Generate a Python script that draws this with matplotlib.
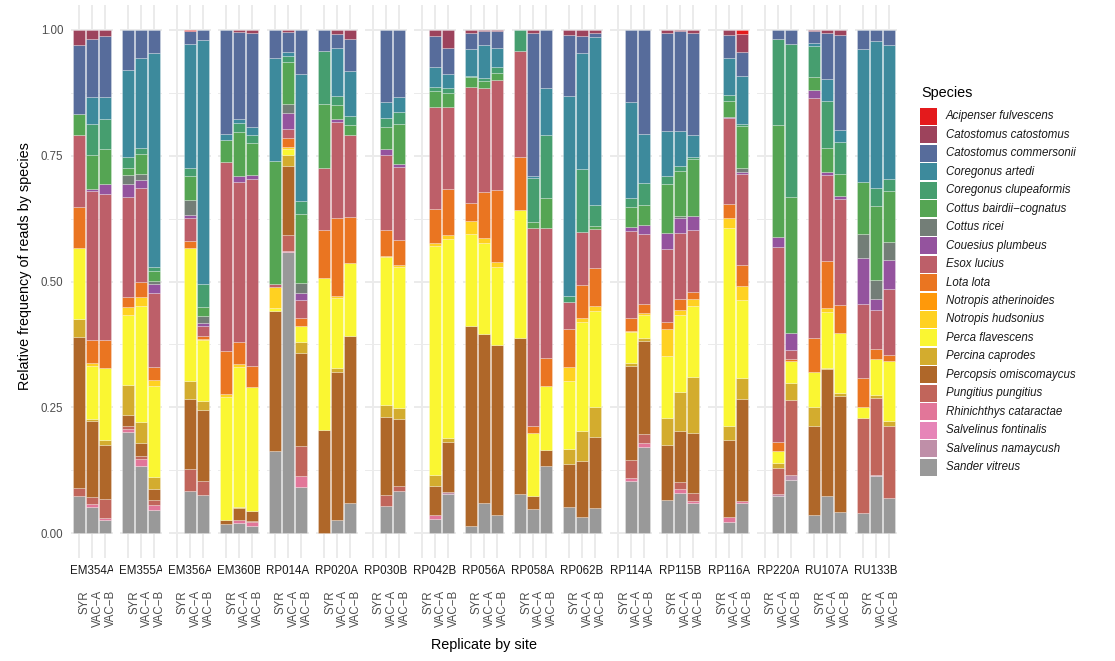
import matplotlib.pyplot as plt
from matplotlib.patches import Rectangle
from matplotlib.transforms import Bbox
import matplotlib.colors as mcolors
import numpy as np

plt.rcParams['font.family'] = ['Liberation Sans', 'DejaVu Sans']

sites = ['EM354A', 'EM355A', 'EM356A', 'EM360B', 'RP014A', 'RP020A', 'RP030B',
         'RP042B', 'RP056A', 'RP058A', 'RP062B', 'RP114A', 'RP115B', 'RP116A',
         'RP220A', 'RU107A', 'RU133B']
reps = ['SYR', 'VAC-A', 'VAC-B']
rep_labels = ['SYR', 'VAC\u2212A', 'VAC\u2212B']
no_syr = ['EM356A', 'RP030B', 'RP042B', 'RP114A', 'RP116A', 'RP220A']

species = ['Acipenser fulvescens', 'Catostomus catostomus', 'Catostomus commersonii',
           'Coregonus artedi', 'Coregonus clupeaformis', 'Cottus bairdii\u2212cognatus',
           'Cottus ricei', 'Couesius plumbeus', 'Esox lucius', 'Lota lota',
           'Notropis atherinoides', 'Notropis hudsonius', 'Perca flavescens',
           'Percina caprodes', 'Percopsis omiscomaycus', 'Pungitius pungitius',
           'Rhinichthys cataractae', 'Salvelinus fontinalis', 'Salvelinus namaycush',
           'Sander vitreus']

# one value per bar, sites in order, replicates SYR / VAC-A / VAC-B (missing SYR skipped)
acipenser = [0, 0, 0,  0, 0, 0,  .002, 0,  0, 0, 0,  0, 0, 0,  0, 0, 0,  0, 0,  0, 0,
             0, 0, 0,  0, 0, 0,  0, 0, 0,  0, 0,  0, 0, 0,  0, .007,  0, 0,  0, 0, 0,  0, 0, 0]
cat_cat = [.030, .017, .012,  0, 0, 0,  0, 0,  0, .003, .005,  0, .003, 0,  0, .007, .017,  0, 0,
           .011, .036,  .005, .002, .002,  0, .005, 0,  .010, .012, .006,  0, 0,
           .005, .002, .005,  .009, .037,  0, 0,  .002, .006, .009,  0, 0, 0]
cat_com = [.138, .117, .122,  .080, .056, .046,  .025, .019,  .207, .174, .188,  .056, .040, .087,
           .041, .029, .064,  .142, .134,  .062, .052,  .032, .027, .034,  0, .285, .116,
           .121, .033, .007,  .144, .207,  .196, .199, .203,  .046, .048,  .017, .027,
           .024, .092, .191,  .038, .022, .030]
cor_art = [0, .052, .042,  .172, .179, .426,  .247, .487,  .012, .008, .015,  .205, .008, .253,
           0, .095, .089,  .033, .030,  .041, .027,  .054, .066, .038,  0, .005, .093,
           .399, .232, .335,  .190, .097,  .089, .070, .044,  .074, .094,  0, 0,
           .005, .043, .023,  .263, .293, .265]
cor_clu = [0, .062, .060,  .022, .012, .007,  .017, .046,  0, .018, .016,  0, .013, .025,
           .107, .019, .018,  .018, .023,  .007, .011,  .003, .007, .011,  .041, .087, .124,
           .012, .124, .042,  .018, .044,  .016, .009, .005,  .012, .005,  .172, .305,
           .062, .094, .063,  0, .034, .025]
cot_bai = [.040, .069, .070,  .013, .040, .020,  .048, .017,  .044, .086, .065,  .244, .083, .137,
           .126, .027, .021,  .044, .080,  .032, .028,  .019, .013, .015,  0, .012, .061,
           0, 0, .005,  .039, .040,  .097, .090, .112,  .032, .084,  .222, .270,
           .027, .048, .044,  .104, .148, .101]
cot_ric = [0, 0, 0,  .018, .011, .007,  .029, .015,  0, 0, 0,  0, .019, .021,  0, 0, 0,  0, 0,
           0, 0,  0, 0, 0,  0, 0, 0,  0, 0, 0,  0, 0,  0, .005, 0,  0, .007,  0, 0,
           0, 0, 0,  .048, .038, .035]
couesius = [0, .004, .020,  .027, .017, .018,  .007, .005,  0, .012, .007,  0, .031, .013,
            0, .005, 0,  .012, .005,  0, 0,  0, 0, 0,  0, 0, 0,  0, 0, 0,  .008, .017,
            .033, .028, .029,  .002, .005,  .020, .033,  .015, .005, .007,  .091, .022, .059]
esox = [.145, .295, .290,  .198, .186, .147,  .044, .021,  .375, .319, .372,  .006, .018, .036,
        .125, .192, .162,  .148, .146,  .202, .162,  .230, .208, .219,  .211, .393, .258,
        .053, .105, .078,  .174, .140,  .145, .133, .123,  .172, .181,  .388, .018,
        .478, .172, .211,  .148, .078, .130]
lota = [.081, .046, .056,  .020, .030, .025,  .015, .005,  .085, .044, .042,  0, .017, .017,
        .095, .154, .092,  .051, .049,  .068, .092,  .036, .091, .142,  .106, .015, .056,
        .076, .066, .075,  .025, .018,  .014, .021, .014,  .027, .040,  .018, .004,
        .068, .093, .054,  .057, .020, .013]
not_ath = [0] * 45
not_hud = [0, .006, 0,  .017, .019, .013,  0, .003,  .007, .006, 0,  .042, .005, 0,  0, .005, 0,
           .003, .005,  .007, .007,  .027, .010, .010,  0, 0, 0,  .028, .009, .011,  .003, .003,
           .053, .010, .013,  .020, .029,  0, 0,  0, .007, 0,  0, 0, 0]
perca = [.142, .105, .144,  .139, .230, .180,  .265, .122,  .244, .278, .247,  .005, .012, .032,
         .302, .139, .146,  .294, .280,  .455, .396,  .183, .180, .156,  .254, .124, .126,
         .135, .217, .189,  .062, .046,  .123, .154, .142,  .394, .154,  .022, .044,
         .070, .111, .121,  .021, .071, .119]
percina = [.034, .005, .009,  .058, .042, .024,  .036, .017,  0, .002, 0,  0, .021, .021,
           0, .007, 0,  .022, .021,  .021, .009,  0, 0, 0,  0, 0, 0,  .030, .059, .061,
           .005, .005,  .054, .078, .111,  .027, .043,  .011, .034,  .038, .002, .005,
           0, .005, .010]
percopsis = [.302, .150, .108,  .023, .026, .022,  .138, .141,  .008, .023, .020,  .278, .137, .185,
             .205, .296, .331,  .156, .133,  .058, .099,  .398, .337, .338,  .311, .027, .032,
             .085, .111, .141,  .186, .186,  .109, .100, .119,  .154, .202,  0, 0,
             .176, .253, .231,  0, 0, 0]
pungitius = [.016, .015, .038,  .005, .005, .010,  .045, .028,  0, 0, .003,  0, .032, .060,
             0, 0, 0,  .022, .011,  0, 0,  0, 0, 0,  0, 0, 0,  0, 0, 0,  .036, .017,
             0, .014, .016,  0, 0,  .052, .149,  0, 0, 0,  .190, .153, .142]
rhinichthys = [0, .005, .003,  .006, .015, .010,  0, 0,  0, .006, .007,  0, .003, .021,
               0, 0, 0,  0, 0,  .008, 0,  0, 0, 0,  0, 0, 0,  0, 0, 0,  .007, .009,
               0, .008, .003,  .011, .004,  0, 0,  0, 0, 0,  0, 0, 0]
sal_fon = [0] * 45
sal_nam = [0, 0, 0,  0, 0, 0,  0, 0,  0, 0, 0,  0, 0, 0,  0, 0, 0,  0, 0,  0, .003,
           0, 0, 0,  0, 0, 0,  0, 0, 0,  0, 0,  0, 0, 0,  0, 0,  .003, .010,
           0, 0, 0,  0, .003, 0]
sander = [.073, .052, .026,  .201, .133, .046,  .083, .076,  .018, .020, .014,  .163, .559, .092,
          0, .025, .060,  .053, .083,  .028, .078,  .013, .059, .036,  .078, .047, .133,
          .052, .032, .049,  .103, .170,  .066, .080, .060,  .021, .060,  .074, .105,
          .036, .074, .042,  .039, .113, .070]

bars = [(s, r) for s in sites for r in reps if not (r == 'SYR' and s in no_syr)]
M = np.array([acipenser, cat_cat, cat_com, cor_art, cor_clu, cot_bai, cot_ric, couesius,
              esox, lota, not_ath, not_hud, perca, percina, percopsis, pungitius,
              rhinichthys, sal_fon, sal_nam, sander], dtype=float)
M = M / M.sum(axis=0)  # position = "fill"

# Set1 ramped to 20 colours
set1 = ['#E41A1C', '#377EB8', '#4DAF4A', '#984EA3', '#FF7F00', '#FFFF33', '#A65628', '#F781BF', '#999999']
ramp = mcolors.LinearSegmentedColormap.from_list('set1ramp', set1)
colors = [ramp(i / 19) for i in range(20)]

W, H = 1115, 661
fig = plt.figure(figsize=(W / 100, H / 100), dpi=100)

left0, pw, gap = 71.2, 41.6, 7.4
ptop, pbot = 4.85, 558.15

for k, site in enumerate(sites):
    x0 = left0 + k * (pw + gap)
    ax = fig.add_axes([x0 / W, 1 - pbot / H, pw / W, (pbot - ptop) / H])
    idx = [j for j, b in enumerate(bars) if b[0] == site]
    xs = np.array([reps.index(bars[j][1]) + 1 for j in idx])
    base = np.zeros(len(idx))
    for sp in reversed(range(20)):
        v = M[sp, idx]
        m = v > 0
        if m.any():
            ax.bar(xs[m], v[m], bottom=base[m], width=0.9, color=colors[sp],
                   edgecolor=(1, 1, 1, 0.45), linewidth=0.4, zorder=3)
        base += v
    ax.set_xlim(0.4, 3.6)
    ax.set_ylim(-0.05, 1.05)
    ax.set_yticks([0, .25, .5, .75, 1])
    ax.set_yticks([.125, .375, .625, .875], minor=True)
    ax.set_xticks([1, 2, 3])
    ax.set_xticklabels(rep_labels, rotation=90, ha='left', va='top')
    ax.grid(which='major', color='#EBEBEB', lw=1.4)
    ax.grid(which='minor', axis='y', color='#EBEBEB', lw=0.7)
    ax.set_axisbelow(True)
    for s in ax.spines.values():
        s.set_visible(False)
    ax.tick_params(which='both', length=0, labelsize=8.3, labelcolor='#4D4D4D')
    ax.tick_params(axis='x', pad=23)
    ax.tick_params(axis='y', pad=5.7)
    if k == 0:
        ax.set_yticklabels(['0.00', '0.25', '0.50', '0.75', '1.00'])
    else:
        ax.set_yticklabels([])
    t = fig.text((x0 + pw / 2) / W, 1 - 571 / H, site, ha='center', va='center',
                 fontsize=8.3, color='#1A1A1A')
    t.set_clip_box(Bbox.from_extents(x0, 0, x0 + pw, H))
    t.set_clip_on(True)

fig.text(25.5 / W, 1 - 266.5 / H, 'Relative frequency of reads by species', rotation=90,
         ha='center', va='center', fontsize=10.4, color='black')
fig.text(484 / W, 1 - 645 / H, 'Replicate by site', ha='center', va='center',
         fontsize=10.4, color='black')

# legend
fig.text(921 / W, 1 - 93 / H, 'Species', ha='left', va='center', fontsize=10.4)
for i, name in enumerate(species):
    ytop = 108 + i * 18.45
    fig.add_artist(Rectangle((920 / W, 1 - (ytop + 17) / H), 17 / W, 17 / H,
                             transform=fig.transFigure, facecolor=colors[i], edgecolor='none'))
    fig.text(946 / W, 1 - (ytop + 8.5) / H, name, ha='left', va='center',
             fontsize=8.3, style='italic', color='#1A1A1A')

fig.savefig('out.png', dpi=100)
